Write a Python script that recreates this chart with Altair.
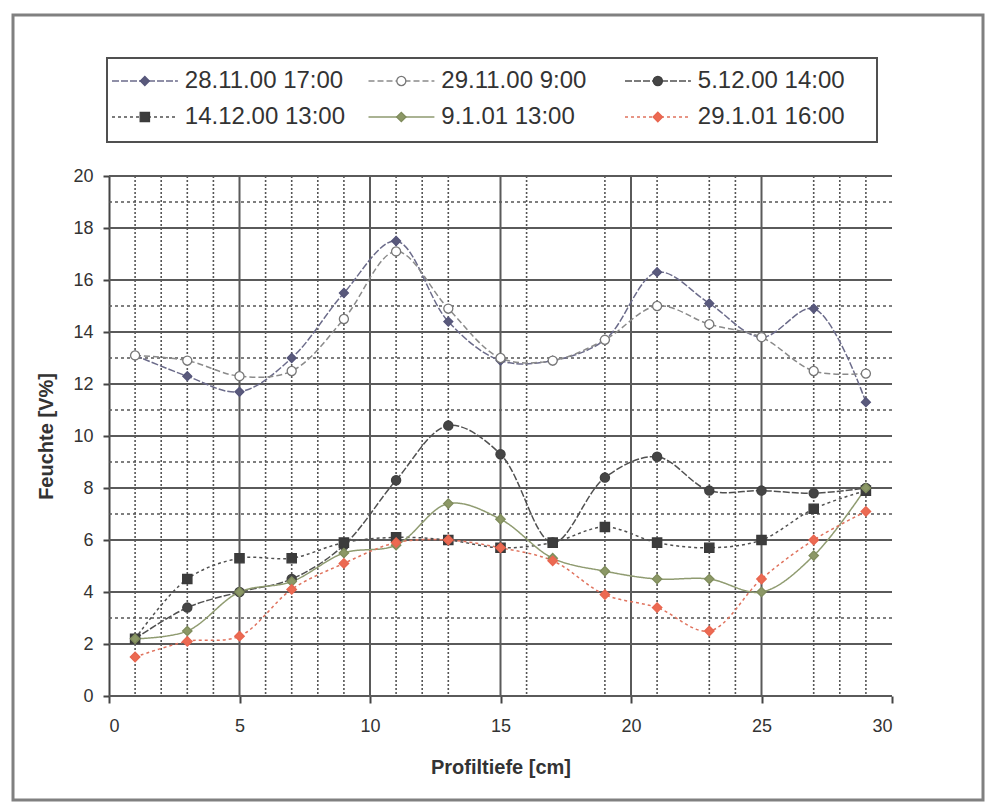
import altair as alt
import pandas as pd

# ---- data ----
depth = [1, 3, 5, 7, 9, 11, 13, 15, 17, 19, 21, 23, 25, 27, 29]
series_names = ["28.11.00 17:00", "29.11.00 9:00", "5.12.00 14:00",
                "14.12.00 13:00", "9.1.01 13:00", "29.1.01 16:00"]
s_28_11 = [13.1, 12.3, 11.7, 13.0, 15.5, 17.5, 14.4, 12.9, 12.9, 13.7, 16.3, 15.1, 13.8, 14.9, 11.3]
s_29_11 = [13.1, 12.9, 12.3, 12.5, 14.5, 17.1, 14.9, 13.0, 12.9, 13.7, 15.0, 14.3, 13.8, 12.5, 12.4]
s_05_12 = [2.2, 3.4, 4.0, 4.5, 5.8, 8.3, 10.4, 9.3, 5.9, 8.4, 9.2, 7.9, 7.9, 7.8, 8.0]
s_14_12 = [2.2, 4.5, 5.3, 5.3, 5.9, 6.1, 6.0, 5.7, 5.9, 6.5, 5.9, 5.7, 6.0, 7.2, 7.9]
s_09_01 = [2.2, 2.5, 4.0, 4.4, 5.5, 5.8, 7.4, 6.8, 5.3, 4.8, 4.5, 4.5, 4.0, 5.4, 8.0]
s_29_01 = [1.5, 2.1, 2.3, 4.1, 5.1, 5.9, 6.0, 5.7, 5.2, 3.9, 3.4, 2.5, 4.5, 6.0, 7.1]
all_series = [s_28_11, s_29_11, s_05_12, s_14_12, s_09_01, s_29_01]

x_ticks = [0, 5, 10, 15, 20, 25, 30]
y_ticks = [0, 2, 4, 6, 8, 10, 12, 14, 16, 18, 20]
major_x = [5, 10, 15, 20, 25]
minor_x = [1, 2, 3, 4, 6, 7, 8, 9, 11, 12, 13, 16, 19, 21, 23, 24, 27, 28, 29]
minor_y = [3, 7, 9, 11, 13, 15, 19]

# ---- styles ----
line_colors = ["#6b6b8a", "#8a8a8a", "#505050", "#505050", "#8f9b70", "#e0735e"]
stroke_colors = ["#55557a", "#777777", "#404040", "#3a3a3a", "#7f8c5c", "#e8654f"]
fill_colors = ["#5a5a7c", "#ffffff", "#454545", "#3c3c3c", "#8c9866", "#ec6a52"]
shapes = ["diamond", "circle", "circle", "square", "diamond", "diamond"]
dashes = [[7, 2], [6, 3], [7, 2], [3, 3], [1, 0], [3, 3]]
sizes = [80, 90, 60, 130, 60, 110]

rows = []
for name, vals in zip(series_names, all_series):
    for d, v in zip(depth, vals):
        rows.append({"depth": d, "value": v, "series": name})
df = pd.DataFrame(rows)

leg = pd.DataFrame({
    "series": series_names,
    "col": [i % 3 for i in range(len(series_names))],
    "row": [i // 3 for i in range(len(series_names))],
})

FONT = "Liberation Sans"
W, H = 783, 520

xs = alt.Scale(domain=[0, 30], nice=False, zero=False)
ys = alt.Scale(domain=[0, 20], nice=False, zero=False)

x_axis = alt.Axis(values=x_ticks, title="Profiltiefe [cm]", grid=False,
                  domain=False, tickSize=7, tickWidth=2, tickColor="#444",
                  labelFontSize=18, labelColor="#333", labelFont=FONT,
                  labelPadding=14, titleFont=FONT, titleFontSize=20,
                  titleFontWeight="bold", titleColor="#333", titlePadding=22)
y_axis = alt.Axis(values=y_ticks, title="Feuchte [V%]", grid=False,
                  domain=True, domainColor="#444", domainWidth=2,
                  tickSize=6, tickWidth=2, tickColor="#444",
                  labelFontSize=18, labelColor="#333", labelFont=FONT,
                  labelPadding=10, titleFont=FONT, titleFontSize=20,
                  titleFontWeight="bold", titleColor="#333", titlePadding=16)

col_s = alt.Scale(domain=series_names, range=line_colors)
stroke_s = alt.Scale(domain=series_names, range=stroke_colors)
fill_s = alt.Scale(domain=series_names, range=fill_colors)
shape_s = alt.Scale(domain=series_names, range=shapes)
dash_s = alt.Scale(domain=series_names, range=dashes)
size_s = alt.Scale(domain=series_names, range=sizes)

# grid
gy_major = alt.Chart(pd.DataFrame({"v": y_ticks})).mark_rule(
    color="#5a5a5a", strokeWidth=2).encode(y=alt.Y("v:Q", scale=ys, axis=y_axis))
gx_major = alt.Chart(pd.DataFrame({"v": major_x})).mark_rule(
    color="#5a5a5a", strokeWidth=2).encode(x=alt.X("v:Q", scale=xs, axis=x_axis))
gx_minor = alt.Chart(pd.DataFrame({"v": minor_x})).mark_rule(
    color="#555555", strokeWidth=1.6, strokeDash=[2, 2]).encode(
    x=alt.X("v:Q", scale=xs, axis=x_axis))
gy_minor = alt.Chart(pd.DataFrame({"v": minor_y})).mark_rule(
    color="#555555", strokeWidth=1.6, strokeDash=[3, 3]).encode(
    y=alt.Y("v:Q", scale=ys, axis=y_axis))

base = alt.Chart(df)
lines = base.mark_line(interpolate="catmull-rom", strokeWidth=1.5).encode(
    x=alt.X("depth:Q", scale=xs, axis=x_axis),
    y=alt.Y("value:Q", scale=ys, axis=y_axis),
    color=alt.Color("series:N", scale=col_s, legend=None),
    strokeDash=alt.StrokeDash("series:N", scale=dash_s, legend=None),
    order=alt.Order("depth:Q"),
)
points = base.mark_point(filled=True, strokeWidth=1.3, opacity=1).encode(
    x=alt.X("depth:Q", scale=xs, axis=x_axis),
    y=alt.Y("value:Q", scale=ys, axis=y_axis),
    shape=alt.Shape("series:N", scale=shape_s, legend=None),
    fill=alt.Fill("series:N", scale=fill_s, legend=None),
    stroke=alt.Stroke("series:N", scale=stroke_s, legend=None),
    size=alt.Size("series:N", scale=size_s, legend=None),
)

main = alt.layer(gx_minor, gy_minor, gy_major, gx_major, lines, points)

# legend built from the series list through its own scales
lx = alt.Scale(domain=[0, 3], range=[3, 772.5])
ly = alt.Scale(domain=[0, 1], range=[-95, -59])
lbase = alt.Chart(leg).transform_calculate(
    x2="datum.col + 0.257", xm="datum.col + 0.128", xt="datum.col + 0.284")
leg_lines = lbase.mark_rule(strokeWidth=1.5).encode(
    x=alt.X("col:Q", scale=lx, axis=None),
    x2="x2:Q",
    y=alt.Y("row:Q", scale=ly, axis=None),
    color=alt.Color("series:N", scale=col_s, legend=None),
    strokeDash=alt.StrokeDash("series:N", scale=dash_s, legend=None),
)
leg_pts = lbase.mark_point(filled=True, strokeWidth=1.3, opacity=1).encode(
    x=alt.X("xm:Q", scale=lx, axis=None),
    y=alt.Y("row:Q", scale=ly, axis=None),
    shape=alt.Shape("series:N", scale=shape_s, legend=None),
    fill=alt.Fill("series:N", scale=fill_s, legend=None),
    stroke=alt.Stroke("series:N", scale=stroke_s, legend=None),
    size=alt.Size("series:N", scale=size_s, legend=None),
)
leg_txt = lbase.mark_text(align="left", baseline="middle", font=FONT,
                          fontSize=24, color="#333").encode(
    x=alt.X("xt:Q", scale=lx, axis=None),
    y=alt.Y("row:Q", scale=ly, axis=None),
    text="series:N",
)
legend_layer = alt.layer(leg_lines, leg_pts, leg_txt)

one = pd.DataFrame({"k": [0]})
legend_box = alt.Chart(one).mark_rect(
    fill=None, stroke="#505050", strokeWidth=2).encode(
    x=alt.value(-2), x2=alt.value(768), y=alt.value(-118), y2=alt.value(-34))
frame = alt.Chart(one).mark_rect(
    fill=None, stroke="#808080", strokeWidth=3).encode(
    x=alt.value(-96), x2=alt.value(874), y=alt.value(-161), y2=alt.value(624))

chart = alt.layer(frame, legend_box, main, legend_layer).resolve_scale(
    x="independent", y="independent"
).properties(
    width=W, height=H,
    autosize=alt.AutoSizeParams(type="none"),
    padding={"left": 109, "top": 176, "right": 98, "bottom": 107},
    background="white",
).configure_view(stroke=None)

chart.save("out.html", embed_options={"renderer": "svg", "actions": False})
